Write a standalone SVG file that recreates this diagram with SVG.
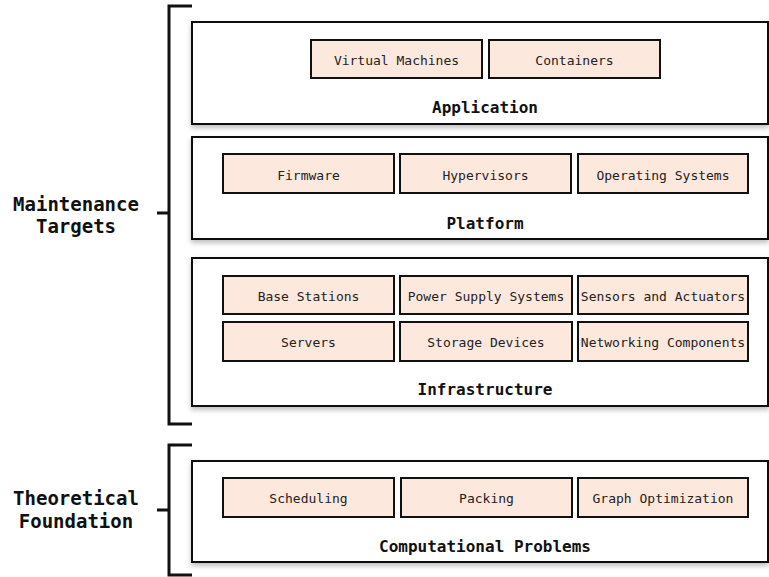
<svg xmlns="http://www.w3.org/2000/svg" width="769" height="577" viewBox="0 0 769 577">
<defs>
<filter id="sh" x="-5%" y="-10%" width="110%" height="130%">
<feDropShadow dx="0" dy="3" stdDeviation="2.5" flood-color="#000" flood-opacity="0.25"/>
</filter>
<style>
.layer{fill:#fff;stroke:#111;stroke-width:2;filter:url(#sh)}
.item{fill:#fde8dd;stroke:#111;stroke-width:2}
.it{font-family:"DejaVu Sans Mono","Liberation Mono",monospace;font-size:13px;fill:#222;text-anchor:middle}
.lt{font-family:"DejaVu Sans Mono","Liberation Mono",monospace;font-size:16px;font-weight:bold;fill:#111;text-anchor:middle}
.gt{font-family:"DejaVu Sans Mono","Liberation Mono",monospace;font-size:19px;font-weight:bold;fill:#111;text-anchor:middle}
.br{fill:none;stroke:#111;stroke-width:3}
</style>
</defs>
<g id="connectors">
<path class="br" d="M192,6 H169 V424 H192 M157,213 H169"/>
<path class="br" d="M192,445 H169 V575 H192 M157,510 H169"/>
</g>
<g id="maintenance-targets">
<text class="gt" x="76" y="211">Maintenance</text>
<text class="gt" x="76" y="233">Targets</text>
</g>
<g id="theoretical-foundation">
<text class="gt" x="76" y="505">Theoretical</text>
<text class="gt" x="76" y="528">Foundation</text>
</g>
<g id="application">
<rect class="layer" x="192" y="22" width="576" height="102"/>
<text class="lt" x="485" y="113">Application</text>
</g>
<g id="virtual-machines"><rect class="item" x="311" y="40" width="171" height="38"/><text class="it" x="396.5" y="65">Virtual Machines</text></g>
<g id="containers"><rect class="item" x="489" y="40" width="171" height="38"/><text class="it" x="574.5" y="65">Containers</text></g>
<g id="platform">
<rect class="layer" x="192" y="137" width="576" height="102"/>
<text class="lt" x="485" y="229">Platform</text>
</g>
<g id="firmware"><rect class="item" x="223" y="154" width="171" height="39"/><text class="it" x="308.5" y="180">Firmware</text></g>
<g id="hypervisors"><rect class="item" x="400" y="154" width="171" height="39"/><text class="it" x="485.5" y="180">Hypervisors</text></g>
<g id="operating-systems"><rect class="item" x="578" y="154" width="170" height="39"/><text class="it" x="663" y="180">Operating Systems</text></g>
<g id="infrastructure">
<rect class="layer" x="192" y="258" width="576" height="148"/>
<text class="lt" x="485" y="395">Infrastructure</text>
</g>
<g id="base-stations"><rect class="item" x="223" y="276" width="171" height="38"/><text class="it" x="308.5" y="301">Base Stations</text></g>
<g id="power-supply-systems"><rect class="item" x="400" y="276" width="172" height="38"/><text class="it" x="486" y="301">Power Supply Systems</text></g>
<g id="sensors-and-actuators"><rect class="item" x="578" y="276" width="170" height="38"/><text class="it" x="663" y="301">Sensors and Actuators</text></g>
<g id="servers"><rect class="item" x="223" y="322" width="171" height="39"/><text class="it" x="308.5" y="347">Servers</text></g>
<g id="storage-devices"><rect class="item" x="400" y="322" width="172" height="39"/><text class="it" x="486" y="347">Storage Devices</text></g>
<g id="networking-components"><rect class="item" x="578" y="322" width="170" height="39"/><text class="it" x="663" y="347">Networking Components</text></g>
<g id="computational-problems">
<rect class="layer" x="192" y="461" width="576" height="101"/>
<text class="lt" x="485" y="552">Computational Problems</text>
</g>
<g id="scheduling"><rect class="item" x="223" y="478" width="171" height="39"/><text class="it" x="308.5" y="503">Scheduling</text></g>
<g id="packing"><rect class="item" x="401" y="478" width="171" height="39"/><text class="it" x="486.5" y="503">Packing</text></g>
<g id="graph-optimization"><rect class="item" x="578" y="478" width="170" height="39"/><text class="it" x="663" y="503">Graph Optimization</text></g>
</svg>
